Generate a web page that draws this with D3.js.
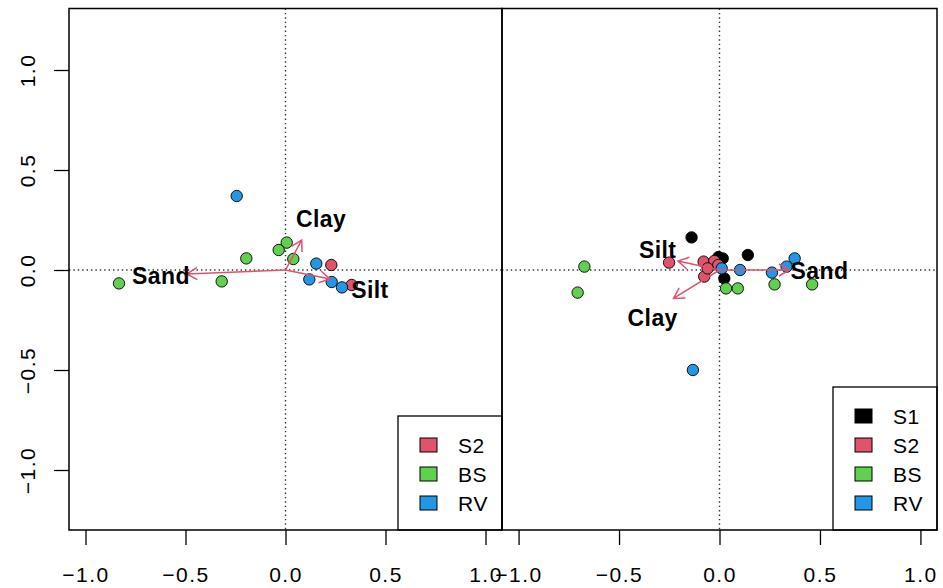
<!DOCTYPE html>
<html>
<head>
<meta charset="utf-8">
<script src="https://cdn.jsdelivr.net/npm/d3@7"></script>
<style>
  html, body { margin: 0; padding: 0; background: #fff; }
  svg { display: block; }
  text { font-family: "Liberation Sans", Arial, Helvetica, sans-serif; }
</style>
</head>
<body>
<svg id="chart" width="943" height="588"></svg>
<script>
// ---- data ----
const groups = ["S1", "S2", "BS", "RV"];
const axisTicks = [-1.0, -0.5, 0.0, 0.5, 1.0];

// left ordination: site scores by group
const leftS2 = [[0.229, 0.025], [0.331, -0.075]];
const leftBS = [[0.006, 0.137], [-0.034, 0.100], [0.039, 0.055], [-0.196, 0.058],
                [-0.319, -0.057], [-0.8325, -0.067]];
const leftRV = [[-0.244, 0.370], [0.154, 0.032], [0.119, -0.047], [0.231, -0.060],
                [0.2825, -0.087]];
// left ordination: environmental vectors and their label positions
const leftVarNames = ["Sand", "Clay", "Silt"];
const leftVectors = [[-0.494, -0.020], [0.081, 0.150], [0.2225, -0.045]];
const leftLabelPos = [[-0.6225, -0.030], [0.1775, 0.255], [0.4225, -0.100]];

// right ordination: site scores by group
const rightS1 = [[-0.139, 0.163], [0.141, 0.075], [-0.005, 0.065], [0.016, 0.058],
                 [0.024, -0.042]];
const rightS2 = [[-0.251, 0.037], [-0.079, 0.042], [-0.026, 0.045], [-0.006, 0.025],
                 [-0.076, -0.033], [-0.059, 0.008]];
const rightBS = [[-0.6725, 0.017], [-0.706, -0.113], [0.0325, -0.092], [0.091, -0.092],
                 [0.274, -0.072], [0.461, -0.072]];
const rightRV = [[0.011, 0.008], [0.1025, 0.000], [0.261, -0.013], [0.334, 0.017],
                 [0.374, 0.058], [-0.1325, -0.500]];
// right ordination: environmental vectors and their label positions
const rightVarNames = ["Sand", "Silt", "Clay"];
const rightVectors = [[0.3475, 0.000], [-0.207, 0.045], [-0.229, -0.142]];
const rightLabelPos = [[0.4975, -0.005], [-0.3075, 0.100], [-0.3325, -0.240]];

// ---- styles ----
const groupColor = { S1: "#000000", S2: "#DF536B", BS: "#61D04F", RV: "#2297E6" };
const arrowColor = "#DF536B";

const svg = d3.select("#chart");
svg.append("rect").attr("width", 943).attr("height", 588).attr("fill", "#fff");

const plotTop = 8.5, plotBottom = 530;
const xDomain = [-1.0825, 1.0825];
const yScale = d3.scaleLinear().domain([-1.30, 1.3075]).range([plotBottom, plotTop]);

function drawPanel(left, right, sets, names, vectors, labelPos, legendGroups, withYAxis) {
  const x = d3.scaleLinear().domain(xDomain).range([left, right]);
  const y = yScale;
  const g = svg.append("g");

  // reference lines through the origin
  g.append("line")
    .attr("x1", left).attr("x2", right).attr("y1", y(0)).attr("y2", y(0))
    .attr("stroke", "#333").attr("stroke-width", 1.4).attr("stroke-dasharray", "1.4,3");
  g.append("line")
    .attr("x1", x(0)).attr("x2", x(0)).attr("y1", plotTop).attr("y2", plotBottom)
    .attr("stroke", "#333").attr("stroke-width", 1.4).attr("stroke-dasharray", "1.4,3");

  // site points
  sets.forEach(([grp, pts]) => {
    g.selectAll(null).data(pts).enter().append("circle")
      .attr("cx", d => x(d[0])).attr("cy", d => y(d[1])).attr("r", 5.7)
      .attr("fill", groupColor[grp]).attr("stroke", "#000").attr("stroke-width", 0.9);
  });

  // environmental vectors
  const headLen = 12, headAng = Math.PI / 6;
  vectors.forEach(v => {
    const x0 = x(0), y0 = y(0), x1 = x(v[0]), y1 = y(v[1]);
    const ang = Math.atan2(y1 - y0, x1 - x0);
    const path = d3.path();
    path.moveTo(x0, y0); path.lineTo(x1, y1);
    path.moveTo(x1 - headLen * Math.cos(ang - headAng), y1 - headLen * Math.sin(ang - headAng));
    path.lineTo(x1, y1);
    path.lineTo(x1 - headLen * Math.cos(ang + headAng), y1 - headLen * Math.sin(ang + headAng));
    g.append("path").attr("d", path.toString()).attr("fill", "none")
      .attr("stroke", arrowColor).attr("stroke-width", 1.5);
  });

  // vector labels
  g.selectAll(null).data(names).enter().append("text")
    .attr("x", (d, i) => x(labelPos[i][0])).attr("y", (d, i) => y(labelPos[i][1]))
    .attr("text-anchor", "middle").attr("dy", "0.36em")
    .attr("font-size", 23).attr("font-weight", "bold").attr("letter-spacing", 0.4)
    .text(d => d);

  // legend (bottom right)
  const rowH = 29;
  const boxW = 104;
  const boxH = legendGroups.length * rowH + 27;
  const lg = g.append("g");
  lg.append("rect").attr("x", right - boxW).attr("y", plotBottom - boxH)
    .attr("width", boxW).attr("height", boxH)
    .attr("fill", "#fff").attr("stroke", "#000").attr("stroke-width", 1.3);
  legendGroups.forEach((grp, i) => {
    const cy = plotBottom - 27 - (legendGroups.length - 1 - i) * rowH;
    lg.append("rect").attr("x", right - boxW + 22).attr("y", cy - 7)
      .attr("width", 17).attr("height", 14)
      .attr("fill", groupColor[grp]).attr("stroke", "#000").attr("stroke-width", 1);
    lg.append("text").attr("x", right - boxW + 60).attr("y", cy).attr("dy", "0.36em")
      .attr("font-size", 21).attr("letter-spacing", 0.6).text(grp);
  });

  // frame
  g.append("rect").attr("x", left).attr("y", plotTop)
    .attr("width", right - left).attr("height", plotBottom - plotTop)
    .attr("fill", "none").attr("stroke", "#000").attr("stroke-width", 1.5);

  // bottom axis
  const xa = svg.append("g").attr("transform", `translate(0,${plotBottom})`)
    .call(d3.axisBottom(x).tickValues(axisTicks).tickFormat(d3.format(".1f"))
      .tickSize(15).tickPadding(22));
  xa.select(".domain").remove();
  xa.selectAll(".tick line").attr("stroke-width", 1.3);
  xa.selectAll("text").attr("font-size", 21).attr("letter-spacing", 1.5).attr("fill", "#000");

  if (withYAxis) {
    const ya = svg.append("g").attr("transform", `translate(${left},0)`)
      .call(d3.axisLeft(y).tickValues(axisTicks).tickFormat(d3.format(".1f")).tickSize(15));
    ya.select(".domain").remove();
    ya.selectAll(".tick line").attr("stroke-width", 1.3);
    ya.selectAll("text")
      .attr("x", null).attr("dy", null)
      .attr("transform", "translate(-34,0) rotate(-90)")
      .attr("text-anchor", "middle")
      .attr("font-size", 21).attr("letter-spacing", 1.5).attr("fill", "#000");
  }
}

drawPanel(69, 502,
  [["S2", leftS2], ["BS", leftBS], ["RV", leftRV]],
  leftVarNames, leftVectors, leftLabelPos, ["S2", "BS", "RV"], true);

drawPanel(502, 937,
  [["S1", rightS1], ["S2", rightS2], ["BS", rightBS], ["RV", rightRV]],
  rightVarNames, rightVectors, rightLabelPos, ["S1", "S2", "BS", "RV"], false);
</script>
</body>
</html>
